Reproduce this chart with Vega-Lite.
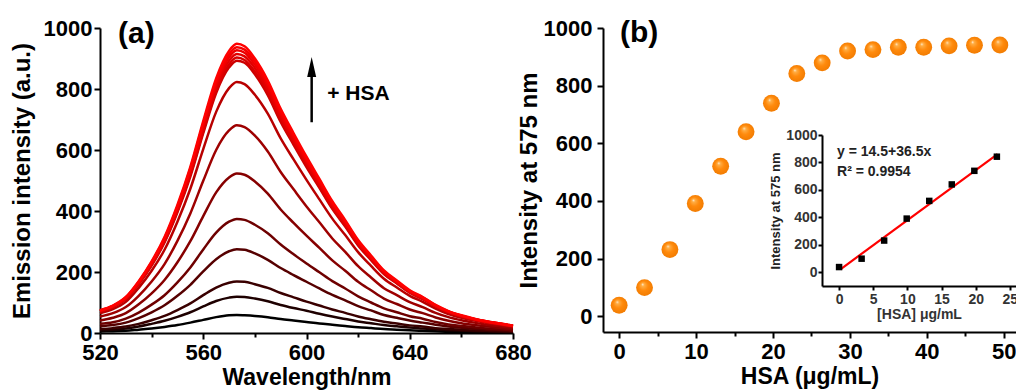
{
  "$schema": "https://vega.github.io/schema/vega-lite/v6.json",
  "autosize": {"type": "none"},
  "padding": {"left": 100, "top": 28, "right": 916, "bottom": 362},
  "background": "white",
  "config": {
    "view": {"stroke": null},
    "font": "Liberation Sans",
    "axis": {
      "grid": false, "domainColor": "black", "domainWidth": 2, "tickColor": "black", "tickWidth": 2,
      "labelFont": "Liberation Sans", "labelFontWeight": "bold", "labelColor": "black",
      "titleFont": "Liberation Sans", "titleFontWeight": "bold", "titleColor": "black",
      "labelFlush": false, "labelOverlap": false, "labelBound": false, "format": "d"
    }
  },
  "bounds": "flush",
  "spacing": 90,
  "hconcat": [
    {
      "width": 413,
      "height": 305,
      "layer": [
        {
          "data": {
            "values": [
              {"nm": 520, "s01": 5, "s02": 9, "s03": 13, "s04": 22, "s05": 30, "s06": 41, "s07": 54, "s08": 65, "s09": 71, "s10": 71, "s11": 72, "s12": 73, "s13": 74, "s14": 75},
              {"nm": 525, "s01": 6, "s02": 11, "s03": 16, "s04": 26, "s05": 35, "s06": 50, "s07": 65, "s08": 78, "s09": 85, "s10": 86, "s11": 87, "s12": 88, "s13": 89, "s14": 90},
              {"nm": 530, "s01": 7, "s02": 15, "s03": 21, "s04": 34, "s05": 47, "s06": 65, "s07": 85, "s08": 102, "s09": 111, "s10": 112, "s11": 114, "s12": 115, "s13": 117, "s14": 118},
              {"nm": 535, "s01": 11, "s02": 21, "s03": 30, "s04": 49, "s05": 67, "s06": 94, "s07": 122, "s08": 148, "s09": 160, "s10": 162, "s11": 164, "s12": 166, "s13": 168, "s14": 170},
              {"nm": 540, "s01": 15, "s02": 30, "s03": 42, "s04": 68, "s05": 93, "s06": 130, "s07": 169, "s08": 204, "s09": 221, "s10": 224, "s11": 227, "s12": 230, "s13": 232, "s14": 235},
              {"nm": 545, "s01": 20, "s02": 40, "s03": 56, "s04": 91, "s05": 124, "s06": 174, "s07": 226, "s08": 273, "s09": 297, "s10": 300, "s11": 304, "s12": 308, "s13": 311, "s14": 315},
              {"nm": 550, "s01": 26, "s02": 53, "s03": 75, "s04": 122, "s05": 166, "s06": 232, "s07": 302, "s08": 365, "s09": 396, "s10": 400, "s11": 405, "s12": 411, "s13": 415, "s14": 420},
              {"nm": 555, "s01": 34, "s02": 68, "s03": 97, "s04": 158, "s05": 215, "s06": 301, "s07": 392, "s08": 473, "s09": 513, "s10": 519, "s11": 526, "s12": 533, "s13": 539, "s14": 545},
              {"nm": 560, "s01": 43, "s02": 87, "s03": 124, "s04": 202, "s05": 274, "s06": 383, "s07": 499, "s08": 603, "s09": 655, "s10": 662, "s11": 671, "s12": 680, "s13": 687, "s14": 695},
              {"nm": 565, "s01": 52, "s02": 105, "s03": 149, "s04": 242, "s05": 329, "s06": 461, "s07": 600, "s08": 725, "s09": 787, "s10": 795, "s11": 806, "s12": 816, "s13": 825, "s14": 835},
              {"nm": 570, "s01": 58, "s02": 116, "s03": 165, "s04": 268, "s05": 365, "s06": 510, "s07": 664, "s08": 803, "s09": 871, "s10": 881, "s11": 893, "s12": 904, "s13": 914, "s14": 925},
              {"nm": 573, "s01": 59, "s02": 119, "s03": 169, "s04": 275, "s05": 374, "s06": 523, "s07": 681, "s08": 823, "s09": 893, "s10": 903, "s11": 915, "s12": 927, "s13": 937, "s14": 948},
              {"nm": 576, "s01": 58, "s02": 118, "s03": 168, "s04": 273, "s05": 371, "s06": 519, "s07": 675, "s08": 816, "s09": 886, "s10": 895, "s11": 907, "s12": 919, "s13": 929, "s14": 940},
              {"nm": 580, "s01": 56, "s02": 113, "s03": 160, "s04": 261, "s05": 355, "s06": 497, "s07": 647, "s08": 781, "s09": 848, "s10": 857, "s11": 869, "s12": 880, "s13": 890, "s14": 900},
              {"nm": 585, "s01": 52, "s02": 104, "s03": 148, "s04": 240, "s05": 327, "s06": 457, "s07": 595, "s08": 719, "s09": 780, "s10": 789, "s11": 799, "s12": 810, "s13": 818, "s14": 828},
              {"nm": 590, "s01": 46, "s02": 92, "s03": 131, "s04": 213, "s05": 290, "s06": 405, "s07": 528, "s08": 638, "s09": 692, "s10": 700, "s11": 709, "s12": 719, "s13": 726, "s14": 735},
              {"nm": 595, "s01": 41, "s02": 82, "s03": 117, "s04": 190, "s05": 258, "s06": 361, "s07": 471, "s08": 569, "s09": 617, "s10": 624, "s11": 632, "s12": 640, "s13": 647, "s14": 655},
              {"nm": 600, "s01": 36, "s02": 73, "s03": 103, "s04": 168, "s05": 228, "s06": 319, "s07": 415, "s08": 502, "s09": 544, "s10": 551, "s11": 558, "s12": 565, "s13": 571, "s14": 578},
              {"nm": 605, "s01": 31, "s02": 63, "s03": 90, "s04": 146, "s05": 199, "s06": 279, "s07": 363, "s08": 438, "s09": 476, "s10": 481, "s11": 487, "s12": 494, "s13": 499, "s14": 505},
              {"nm": 610, "s01": 27, "s02": 54, "s03": 77, "s04": 125, "s05": 170, "s06": 238, "s07": 310, "s08": 375, "s09": 407, "s10": 411, "s11": 417, "s12": 422, "s13": 427, "s14": 432},
              {"nm": 615, "s01": 23, "s02": 46, "s03": 66, "s04": 107, "s05": 146, "s06": 204, "s07": 266, "s08": 321, "s09": 349, "s10": 352, "s11": 357, "s12": 362, "s13": 366, "s14": 370},
              {"nm": 620, "s01": 19, "s02": 38, "s03": 54, "s04": 88, "s05": 120, "s06": 168, "s07": 219, "s08": 265, "s09": 287, "s10": 290, "s11": 294, "s12": 298, "s13": 301, "s14": 305},
              {"nm": 625, "s01": 16, "s02": 32, "s03": 45, "s04": 74, "s05": 100, "s06": 140, "s07": 182, "s08": 220, "s09": 239, "s10": 242, "s11": 245, "s12": 248, "s13": 251, "s14": 254},
              {"nm": 630, "s01": 13, "s02": 26, "s03": 37, "s04": 59, "s05": 81, "s06": 113, "s07": 147, "s08": 178, "s09": 193, "s10": 195, "s11": 198, "s12": 200, "s13": 203, "s14": 205},
              {"nm": 635, "s01": 11, "s02": 22, "s03": 31, "s04": 50, "s05": 68, "s06": 95, "s07": 124, "s08": 149, "s09": 162, "s10": 164, "s11": 166, "s12": 168, "s13": 170, "s14": 172},
              {"nm": 640, "s01": 9, "s02": 18, "s03": 25, "s04": 41, "s05": 55, "s06": 77, "s07": 101, "s08": 122, "s09": 132, "s10": 133, "s11": 135, "s12": 137, "s13": 138, "s14": 140},
              {"nm": 645, "s01": 7, "s02": 15, "s03": 21, "s04": 34, "s05": 47, "s06": 65, "s07": 85, "s08": 102, "s09": 111, "s10": 112, "s11": 114, "s12": 115, "s13": 117, "s14": 118},
              {"nm": 650, "s01": 6, "s02": 12, "s03": 16, "s04": 27, "s05": 36, "s06": 51, "s07": 66, "s08": 80, "s09": 87, "s10": 88, "s11": 89, "s12": 90, "s13": 91, "s14": 92},
              {"nm": 655, "s01": 4, "s02": 9, "s03": 13, "s04": 21, "s05": 28, "s06": 40, "s07": 52, "s08": 62, "s09": 68, "s10": 69, "s11": 69, "s12": 70, "s13": 71, "s14": 72},
              {"nm": 660, "s01": 4, "s02": 7, "s03": 10, "s04": 17, "s05": 23, "s06": 32, "s07": 42, "s08": 50, "s09": 55, "s10": 55, "s11": 56, "s12": 57, "s13": 57, "s14": 58},
              {"nm": 665, "s01": 3, "s02": 6, "s03": 8, "s04": 14, "s05": 19, "s06": 26, "s07": 34, "s08": 41, "s09": 44, "s10": 45, "s11": 45, "s12": 46, "s13": 46, "s14": 47},
              {"nm": 670, "s01": 2, "s02": 5, "s03": 7, "s04": 11, "s05": 15, "s06": 21, "s07": 27, "s08": 33, "s09": 36, "s10": 36, "s11": 37, "s12": 37, "s13": 38, "s14": 38},
              {"nm": 675, "s01": 2, "s02": 4, "s03": 6, "s04": 9, "s05": 12, "s06": 17, "s07": 22, "s08": 27, "s09": 29, "s10": 30, "s11": 30, "s12": 30, "s13": 31, "s14": 31},
              {"nm": 680, "s01": 1, "s02": 3, "s03": 4, "s04": 7, "s05": 9, "s06": 13, "s07": 17, "s08": 21, "s09": 23, "s10": 23, "s11": 23, "s12": 23, "s13": 24, "s14": 24}
            ]
          },
          "transform": [
            {"fold": ["s01", "s02", "s03", "s04", "s05", "s06", "s07", "s08", "s09", "s10", "s11", "s12", "s13", "s14"], "as": ["curve", "value"]}
          ],
          "mark": {"type": "line", "strokeWidth": 2.5, "interpolate": "monotone"},
          "encoding": {
            "x": {
              "field": "nm", "type": "quantitative",
              "scale": {"domain": [520, 680], "nice": false, "zero": false},
              "axis": {
                "title": "Wavelength/nm", "titleFontSize": 23, "labelFontSize": 22,
                "values": [520, 540, 560, 580, 600, 620, 640, 660, 680],
                "labelExpr": "datum.value % 40 === 0 ? datum.label : ''",
                "tickSize": {"condition": {"test": "datum.value % 40 !== 0", "value": 4}, "value": 6},
                "labelPadding": 3, "titlePadding": 3
              }
            },
            "y": {
              "field": "value", "type": "quantitative",
              "scale": {"domain": [0, 1000], "nice": false},
              "axis": {
                "title": "Emission intensity (a.u.)", "titleFontSize": 24, "labelFontSize": 22,
                "values": [0, 100, 200, 300, 400, 500, 600, 700, 800, 900, 1000],
                "labelExpr": "datum.value % 200 === 0 ? datum.label : ''",
                "tickSize": {"condition": {"test": "datum.value % 200 !== 0", "value": 4}, "value": 6},
                "labelPadding": 2, "titlePadding": 9
              }
            },
            "color": {
              "field": "curve", "type": "nominal", "legend": null,
              "scale": {
                "domain": ["s01", "s02", "s03", "s04", "s05", "s06", "s07", "s08", "s09", "s10", "s11", "s12", "s13", "s14"],
                "range": ["#000000", "#1e0000", "#3a0000", "#560000", "#6e0000", "#860000", "#9e0000", "#b80000", "#cc0000", "#d80000", "#e20000", "#ec0000", "#f60000", "#ff0000"]
              }
            }
          }
        },
        {
          "data": {"values": [{"x": 602, "y": 691, "y2": 845}]},
          "mark": {"type": "rule", "strokeWidth": 2.5, "color": "black"},
          "encoding": {
            "x": {"field": "x", "type": "quantitative"},
            "y": {"field": "y", "type": "quantitative"},
            "y2": {"field": "y2"}
          }
        },
        {
          "data": {"values": [{"x": 602, "y": 872}]},
          "mark": {"type": "point", "shape": "M0,-1L0.45,1L-0.45,1Z", "filled": true, "color": "black", "size": 400, "opacity": 1},
          "encoding": {
            "x": {"field": "x", "type": "quantitative"},
            "y": {"field": "y", "type": "quantitative"}
          }
        },
        {
          "data": {"values": [{"x": 608, "y": 783, "t": "+ HSA"}, {"x": 527, "y": 980, "t": "(a)"}]},
          "mark": {"type": "text", "align": "left", "baseline": "middle", "fontWeight": "bold", "font": "Liberation Sans", "color": "black"},
          "encoding": {
            "x": {"field": "x", "type": "quantitative"},
            "y": {"field": "y", "type": "quantitative"},
            "text": {"field": "t"},
            "size": {"condition": {"test": "datum.t === '(a)'", "value": 30}, "value": 21}
          }
        }
      ]
    },
    {
      "width": 413,
      "height": 304,
      "resolve": {"scale": {"x": "independent", "y": "independent"}, "axis": {"x": "independent", "y": "independent"}},
      "layer": [
        {
          "layer": [
            {
              "data": {
                "values": [
                  {"hsa": 0, "i": 38}, {"hsa": 3.3, "i": 99}, {"hsa": 6.6, "i": 231}, {"hsa": 9.9, "i": 391},
                  {"hsa": 13.2, "i": 520}, {"hsa": 16.5, "i": 640}, {"hsa": 19.8, "i": 739}, {"hsa": 23.1, "i": 842},
                  {"hsa": 26.4, "i": 879}, {"hsa": 29.7, "i": 920}, {"hsa": 33, "i": 925}, {"hsa": 36.3, "i": 933},
                  {"hsa": 39.6, "i": 933}, {"hsa": 42.9, "i": 938}, {"hsa": 46.2, "i": 940}, {"hsa": 49.5, "i": 941}
                ]
              },
              "mark": {
                "type": "circle", "size": 285, "opacity": 1,
                "fill": {
                  "gradient": "radial", "x1": 0.38, "y1": 0.3, "r1": 0, "x2": 0.5, "y2": 0.5, "r2": 0.55,
                  "stops": [
                    {"offset": 0, "color": "#fff4e4"},
                    {"offset": 0.16, "color": "#ffae45"},
                    {"offset": 0.5, "color": "#ff8a0c"},
                    {"offset": 1, "color": "#f07a00"}
                  ]
                }
              },
              "encoding": {
                "x": {
                  "field": "hsa", "type": "quantitative",
                  "scale": {"domain": [-2.1, 51.6], "nice": false, "zero": false},
                  "axis": {
                    "orient": "bottom",
                    "title": "HSA (μg/mL)", "titleFontSize": 23, "labelFontSize": 22,
                    "values": [0, 5, 10, 15, 20, 25, 30, 35, 40, 45, 50],
                    "labelExpr": "datum.value % 10 === 0 ? datum.label : ''",
                    "tickSize": {"condition": {"test": "datum.value % 10 !== 0", "value": 4}, "value": 6},
                    "labelPadding": 3, "titlePadding": 3
                  }
                },
                "y": {
                  "field": "i", "type": "quantitative",
                  "scale": {"domain": [-55, 1000], "nice": false, "zero": false},
                  "axis": {
                    "orient": "left",
                    "title": "Intensity at 575 nm", "titleFontSize": 24, "labelFontSize": 22,
                    "values": [0, 100, 200, 300, 400, 500, 600, 700, 800, 900, 1000],
                    "labelExpr": "datum.value % 200 === 0 ? datum.label : ''",
                    "tickSize": {"condition": {"test": "datum.value % 200 !== 0", "value": 4}, "value": 6},
                    "labelPadding": 5, "titlePadding": 2
                  }
                }
              }
            },
            {
              "data": {"values": [{"x": 0.1, "y": 983, "t": "(b)"}]},
              "mark": {"type": "text", "align": "left", "baseline": "middle", "fontWeight": "bold", "font": "Liberation Sans", "fontSize": 30, "color": "black"},
              "encoding": {
                "x": {"field": "x", "type": "quantitative"},
                "y": {"field": "y", "type": "quantitative"},
                "text": {"field": "t"}
              }
            }
          ]
        },
        {
          "layer": [
            {
              "data": {"values": [{"x": 0.2, "y": 21.8}, {"x": 23.2, "y": 861.3}]},
              "mark": {"type": "line", "color": "#ff0000", "strokeWidth": 2.2},
              "encoding": {
                "x": {
                  "field": "x", "type": "quantitative",
                  "scale": {"domain": [-2.5, 25.9], "nice": false, "zero": false, "range": [219, 413]},
                  "axis": {
                    "orient": "bottom", "offset": -46,
                    "title": "[HSA] μg/mL", "titleFontSize": 14, "labelFontSize": 14, "titleColor": "#333333", "labelColor": "#333333",
                    "values": [0, 5, 10, 15, 20, 25],
                    "tickSize": 4, "labelPadding": 2, "titlePadding": 1, "domainWidth": 2
                  }
                },
                "y": {
                  "field": "y", "type": "quantitative",
                  "scale": {"domain": [-100, 1000], "nice": false, "zero": false, "range": [258, 107]},
                  "axis": {
                    "orient": "left", "offset": -219,
                    "title": "Intensity at 575 nm", "titleFontSize": 13, "labelFontSize": 14, "titleColor": "#222222", "labelColor": "#333333",
                    "values": [0, 100, 200, 300, 400, 500, 600, 700, 800, 900, 1000],
                    "labelExpr": "datum.value % 200 === 0 ? datum.label : ''",
                    "tickSize": {"condition": {"test": "datum.value % 200 !== 0", "value": 2}, "value": 4},
                    "labelPadding": 1, "titlePadding": 3, "domainWidth": 2
                  }
                }
              }
            },
            {
              "data": {
                "values": [
                  {"x": 0, "y": 38}, {"x": 3.3, "y": 99}, {"x": 6.6, "y": 231}, {"x": 9.9, "y": 391},
                  {"x": 13.2, "y": 520}, {"x": 16.5, "y": 640}, {"x": 19.8, "y": 739}, {"x": 23.1, "y": 842}
                ]
              },
              "mark": {"type": "square", "size": 42, "color": "black", "opacity": 1},
              "encoding": {
                "x": {"field": "x", "type": "quantitative"},
                "y": {"field": "y", "type": "quantitative"}
              }
            },
            {
              "data": {"values": [{"x": -0.3, "y": 876, "t": "y = 14.5+36.5x"}, {"x": -0.3, "y": 730, "t": "R² = 0.9954"}]},
              "mark": {"type": "text", "align": "left", "baseline": "middle", "fontWeight": "bold", "font": "Liberation Sans", "fontSize": 14, "color": "#222222"},
              "encoding": {
                "x": {"field": "x", "type": "quantitative"},
                "y": {"field": "y", "type": "quantitative"},
                "text": {"field": "t"}
              }
            }
          ]
        }
      ]
    }
  ]
}
